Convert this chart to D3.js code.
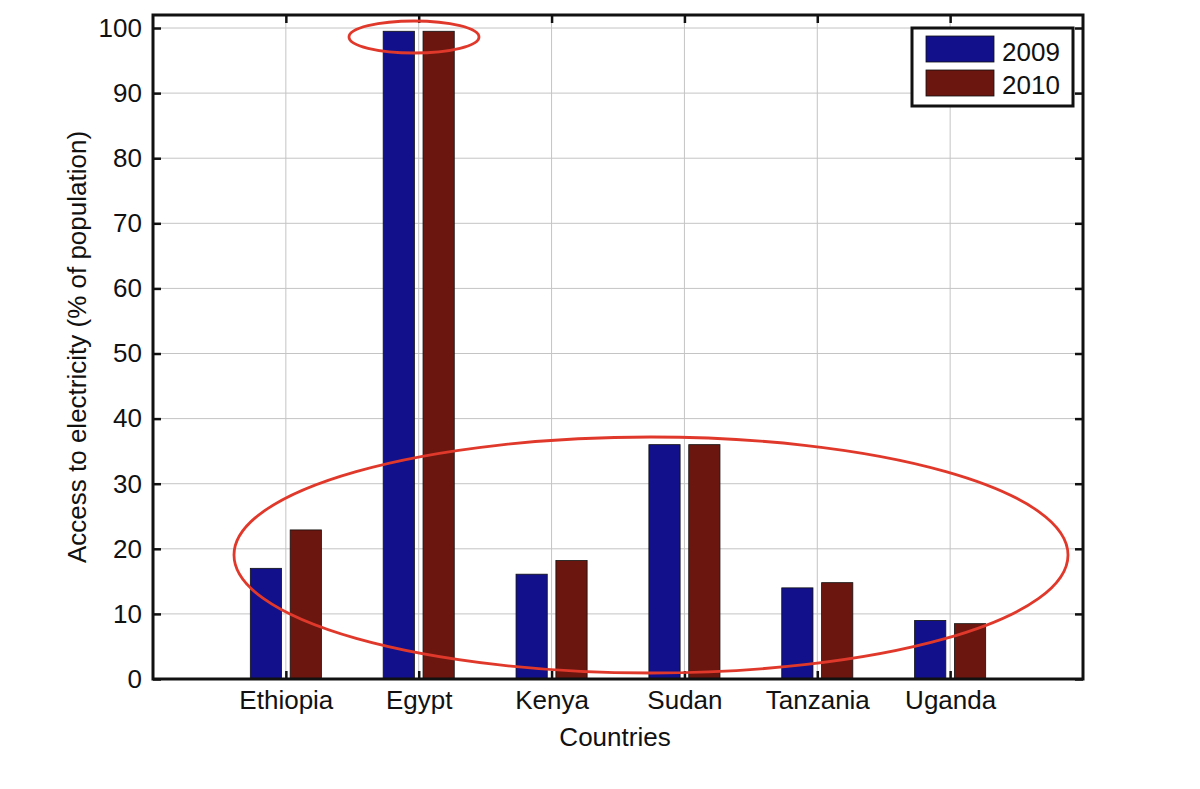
<!DOCTYPE html>
<html>
<head>
<meta charset="utf-8">
<script src="https://cdn.jsdelivr.net/npm/d3@7"></script>
<style>
  body { margin: 0; background: #fff; }
  text { font-family: "Liberation Sans", Arial, sans-serif; fill: #111; }
</style>
</head>
<body>
<div id="chart"></div>
<script>
const countries = ["Ethiopia", "Egypt", "Kenya", "Sudan", "Tanzania", "Uganda"];
const values2009 = [17.0, 99.5, 16.1, 36.0, 14.0, 9.0];
const values2010 = [22.9, 99.5, 18.2, 36.0, 14.8, 8.5];
const yTicks = [0, 10, 20, 30, 40, 50, 60, 70, 80, 90, 100];
const seriesNames = ["2009", "2010"];
const seriesColors = ["#12108a", "#6b1710"];

const width = 1200, height = 789;
const margin = { left: 153, right: 117, top: 15, bottom: 110 };
const fontSize = 26;

const svg = d3.select("#chart")
  .append("svg")
  .attr("width", width)
  .attr("height", height);

const xScale = d3.scaleLinear()
  .domain([0, countries.length + 1])
  .range([margin.left, width - margin.right]);

const yScale = d3.scaleLinear()
  .domain([0, 102])
  .range([height - margin.bottom, margin.top]);

const x0 = margin.left, x1 = width - margin.right;
const y0 = height - margin.bottom, y1 = margin.top;

// grid
const grid = svg.append("g").attr("stroke", "#c4c4c4").attr("stroke-width", 1);
grid.selectAll("line.gx")
  .data(countries.map((c, i) => i + 1))
  .join("line")
  .attr("x1", d => xScale(d)).attr("x2", d => xScale(d))
  .attr("y1", y0).attr("y2", y1);
grid.selectAll("line.gy")
  .data(yTicks.slice(1))
  .join("line")
  .attr("x1", x0).attr("x2", x1)
  .attr("y1", d => yScale(d)).attr("y2", d => yScale(d));

// bars
const barW = 0.235, offset = 0.15;
const series = [values2009, values2010];
series.forEach((vals, s) => {
  svg.append("g")
    .attr("fill", seriesColors[s])
    .attr("stroke", "#111")
    .attr("stroke-width", 0.8)
    .selectAll("rect")
    .data(vals.map((v, i) => ({ v, i })))
    .join("rect")
    .attr("x", d => xScale(d.i + 1 + (s === 0 ? -offset : offset) - barW / 2))
    .attr("width", xScale(barW) - xScale(0))
    .attr("y", d => yScale(d.v))
    .attr("height", d => yScale(0) - yScale(d.v));
});

// axes
const tickLen = 8;
const yAxisL = d3.axisLeft(yScale).tickValues(yTicks).tickSize(-tickLen).tickPadding(11).tickSizeOuter(0);
const yAxisR = d3.axisRight(yScale).tickValues(yTicks).tickSize(-tickLen).tickFormat("").tickSizeOuter(0);
const xAxisB = d3.axisBottom(xScale).tickValues(countries.map((c, i) => i + 1))
  .tickFormat((d, i) => countries[i]).tickSize(-tickLen).tickPadding(12).tickSizeOuter(0);
const xAxisT = d3.axisTop(xScale).tickValues(countries.map((c, i) => i + 1))
  .tickFormat("").tickSize(-tickLen).tickSizeOuter(0);

const styleAxis = g => {
  g.select(".domain").remove();
  g.selectAll(".tick line").attr("stroke", "#111").attr("stroke-width", 2.5);
  g.selectAll(".tick text").attr("font-size", fontSize).attr("fill", "#111")
    .attr("font-family", "'Liberation Sans', Arial, sans-serif");
};

svg.append("g").attr("transform", `translate(${x0},0)`).call(yAxisL).call(styleAxis);
svg.append("g").attr("transform", `translate(${x1},0)`).call(yAxisR).call(styleAxis);
svg.append("g").attr("transform", `translate(0,${y0})`).call(xAxisB).call(styleAxis);
svg.append("g").attr("transform", `translate(0,${y1})`).call(xAxisT).call(styleAxis);

// box
svg.append("rect")
  .attr("x", x0).attr("y", y1)
  .attr("width", x1 - x0).attr("height", y0 - y1)
  .attr("fill", "none").attr("stroke", "#111").attr("stroke-width", 3);

// axis labels
svg.append("text")
  .attr("x", (x0 + x1) / 2 - 3).attr("y", 746)
  .attr("text-anchor", "middle").attr("font-size", fontSize)
  .text("Countries");

svg.append("text")
  .attr("transform", `translate(86, ${(y0 + y1) / 2}) rotate(-90)`)
  .attr("text-anchor", "middle").attr("font-size", fontSize)
  .text("Access to electricity (% of population)");

// legend
const legend = svg.append("g");
legend.append("rect")
  .attr("x", 912).attr("y", 28).attr("width", 161).attr("height", 78)
  .attr("fill", "#fff").attr("stroke", "#111").attr("stroke-width", 3);
seriesNames.forEach((name, i) => {
  legend.append("rect")
    .attr("x", 926).attr("y", 36 + i * 34).attr("width", 68).attr("height", 26)
    .attr("fill", seriesColors[i]).attr("stroke", "#111").attr("stroke-width", 0.8);
  legend.append("text")
    .attr("x", 1002).attr("y", 61 + i * 33)
    .attr("font-size", fontSize)
    .text(name);
});

// annotation ellipses
const ann = svg.append("g").attr("fill", "none").attr("stroke", "#e0392b").attr("stroke-width", 2.8);
ann.append("ellipse")
  .attr("cx", 414).attr("cy", 37).attr("rx", 65).attr("ry", 16);
ann.append("ellipse")
  .attr("cx", 651).attr("cy", 555).attr("rx", 417).attr("ry", 118);
</script>
</body>
</html>
